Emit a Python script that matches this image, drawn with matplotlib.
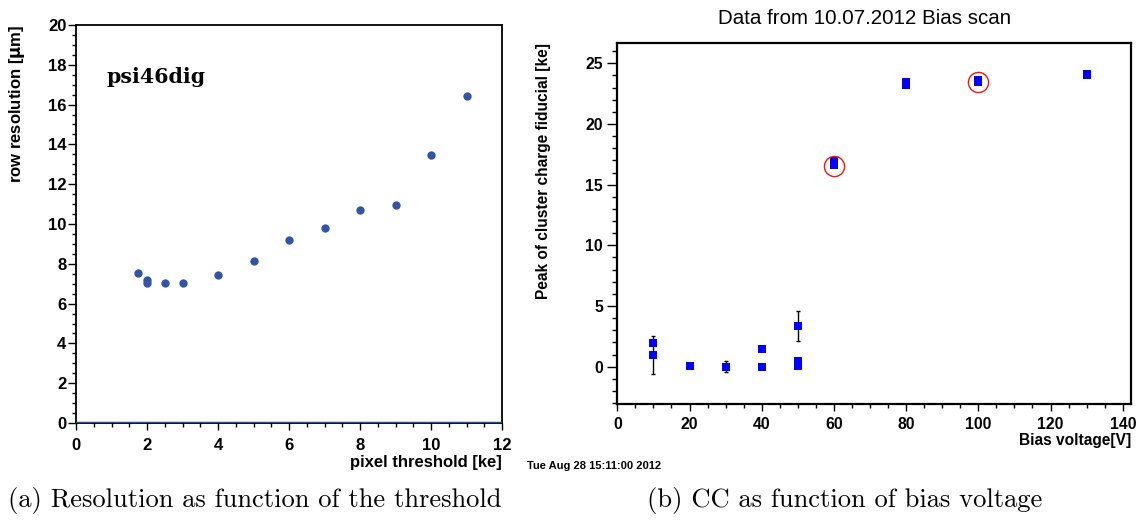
# -*- coding: utf-8 -*-
"""
Two ROOT style panels: row resolution vs pixel threshold and
peak of cluster charge vs bias voltage
"""
import matplotlib
matplotlib.use("Agg")
import matplotlib.pyplot as plt
from matplotlib.ticker import MultipleLocator

# =============================================================================
# data
# =============================================================================
# (a) resolution vs threshold
threshold_ke = [1.76, 2.0, 2.0, 2.5, 3.0, 4.0, 5.0, 6.0, 7.0, 8.0, 9.0, 10.0, 11.0]
resolution_um = [7.56, 7.2, 7.06, 7.06, 7.06, 7.43, 8.15, 9.22, 9.79, 10.69,
                 10.93, 13.46, 16.42]

# (b) charge collection vs bias voltage
bias_v = [10, 10, 20, 30, 40, 40, 50, 50, 50, 60, 60, 80, 80, 100, 100, 130, 130]
peak_cc = [1.92, 0.96, 0.05, 0.0, 1.45, 0.0, 3.35, 0.43, 0.05, 16.96, 16.61,
           23.46, 23.21, 23.6, 23.45, 24.1, 24.0]
peak_err = [0.0, 1.56, 0.0, 0.45, 0.0, 0.0, 1.24, 0.0, 0.0, 0.0, 0.0,
            0.0, 0.0, 0.0, 0.0, 0.0, 0.0]
# points marked with a red circle
circle_v = [60, 100]
circle_cc = [16.56, 23.49]

W, H = 1137, 520
sans = ['Liberation Sans', 'DejaVu Sans']
serif_cap = ['cmr10', 'DejaVu Serif']

fig = plt.figure(figsize=(W / 100, H / 100), dpi=100)


def px(x, y):
    # pixel position -> figure fraction
    return x / W, 1 - y / H


def style_axis(ax, xmaj, xmin, ymaj, ymin, lw, ylen, xlen, ypad, xpad, fs):
    '''ROOT like frame: ticks outside, only on the left and bottom'''
    for s in ax.spines.values():
        s.set_linewidth(lw)
    ax.xaxis.set_major_locator(MultipleLocator(xmaj))
    ax.xaxis.set_minor_locator(MultipleLocator(xmin))
    ax.yaxis.set_major_locator(MultipleLocator(ymaj))
    ax.yaxis.set_minor_locator(MultipleLocator(ymin))
    ax.tick_params(axis='y', which='major', direction='out', length=ylen,
                   width=1, pad=ypad)
    ax.tick_params(axis='y', which='minor', direction='out', length=ylen / 2,
                   width=1)
    ax.tick_params(axis='x', which='major', direction='out', length=xlen,
                   width=1, pad=xpad)
    ax.tick_params(axis='x', which='minor', direction='out', length=xlen * 0.6,
                   width=1)
    for lab in ax.get_xticklabels() + ax.get_yticklabels():
        lab.set_family(sans)
        lab.set_fontweight('bold')
        lab.set_fontsize(fs)


# =============================================================================
# left panel
# =============================================================================
axL = fig.add_axes([76 / W, 1 - 423 / H, 426 / W, 398 / H])
axL.axhline(0, color='#2a4895', lw=2.5, zorder=3)
axL.plot(threshold_ke, resolution_um, 'o', color='#3354a6', ms=6, mew=0,
         zorder=4)
axL.set_xlim(0, 12)
axL.set_ylim(0, 20)
style_axis(axL, 2, 0.5, 2, 0.5, 1.3, 5.5, 5, 1.5, 5.5, 12)
axL.text(0.87, 17.1, 'psi46dig', family='DejaVu Serif', fontweight='bold',
         fontsize=14.8, ha='left', va='baseline')

fig.text(*px(17, 25), 'row resolution [$\\mathbf{\\mu}$m]', rotation=90,
         ha='center', va='top', family=sans, fontweight='bold', fontsize=12)
fig.text(*px(502, 462), 'pixel threshold [ke]', ha='right', va='center',
         family=sans, fontweight='bold', fontsize=12)

# =============================================================================
# right panel
# =============================================================================
axR = fig.add_axes([617.3 / W, 1 - 404 / H, 513.4 / W, 361.3 / H])
axR.errorbar(bias_v, peak_cc, yerr=peak_err, fmt='none', ecolor='black',
             elinewidth=1, capsize=1.3, capthick=1, zorder=2)
axR.plot(bias_v, peak_cc, 's', color='#0000ff', ms=5.5, mew=0, zorder=3)
axR.plot(circle_v, circle_cc, 'o', mfc='none', mec='#ff1010', ms=14.5,
         mew=1, zorder=4)
axR.set_xlim(0, 142.2)
axR.set_ylim(-3.08, 26.7)
style_axis(axR, 20, 5, 5, 1, 1.6, 7, 5, 3.3, 4.2, 11.3)

fig.text(*px(864.6, 18), 'Data from 10.07.2012 Bias scan', ha='center',
         va='center', family=sans, fontsize=14.8)
fig.text(*px(543.6, 42.7), 'Peak of cluster charge fiducial [ke]',
         rotation=90, ha='center', va='top', family=sans, fontweight='bold',
         fontsize=11.2)
fig.text(*px(1131.4, 440.5), 'Bias voltage[V]', ha='right', va='center',
         family=sans, fontweight='bold', fontsize=11.2)
fig.text(*px(527, 466), 'Tue Aug 28 15:11:00 2012', ha='left', va='center',
         family=sans, fontweight='bold', fontsize=8)

# =============================================================================
# captions
# =============================================================================
fig.text(*px(8, 507), '(a) Resolution as function of the threshold',
         ha='left', va='baseline', family=serif_cap, fontsize=19.1)
fig.text(*px(647, 507), '(b) CC as function of bias voltage',
         ha='left', va='baseline', family=serif_cap, fontsize=19.1)

fig.savefig('out.png', dpi=100)
